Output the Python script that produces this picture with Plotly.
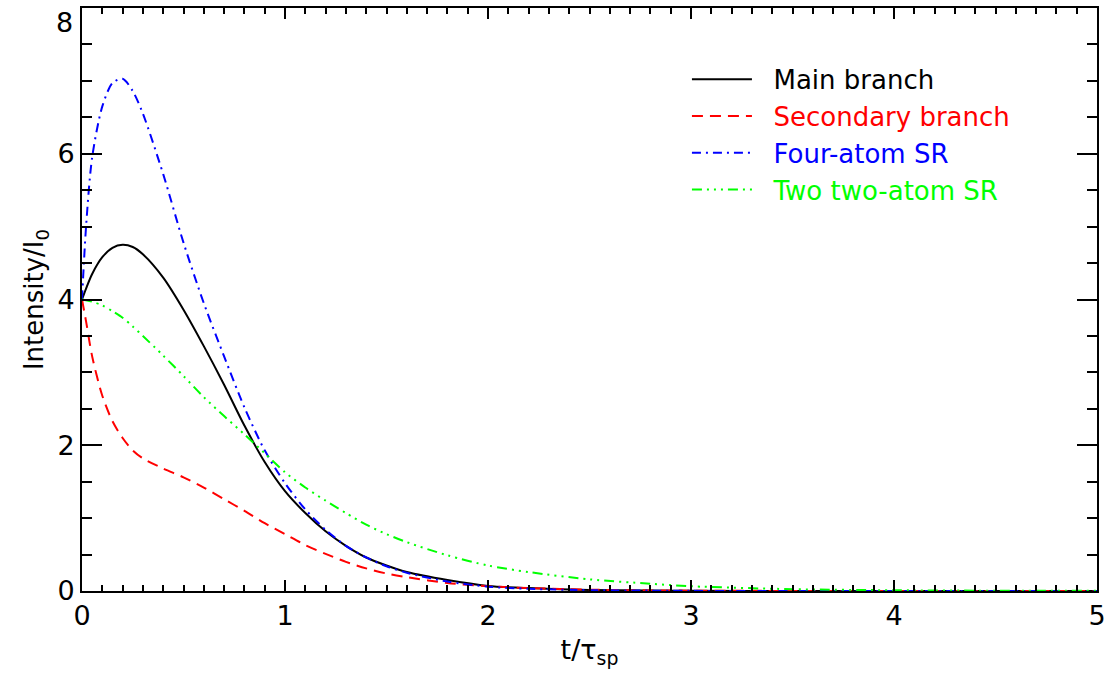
import plotly.graph_objects as go

# time grid (t / tau_sp)
t = [0, 0.02, 0.05, 0.1, 0.15, 0.2, 0.25, 0.3, 0.4, 0.5, 0.6, 0.7, 0.8, 0.9,
     1.0, 1.1, 1.2, 1.3, 1.4, 1.5, 1.6, 1.8, 2.0, 2.2, 2.5, 2.8, 3.0, 3.5,
     4.0, 4.5, 5.0]

main_branch = [4.0, 4.15, 4.35, 4.58, 4.71, 4.75, 4.72, 4.62, 4.30, 3.86,
               3.36, 2.83, 2.27, 1.77, 1.37, 1.07, 0.82, 0.62, 0.46, 0.35,
               0.26, 0.15, 0.07, 0.04, 0.015, 0.006, 0.003, 0.001, 0.0,
               0.0, 0.0]

secondary_branch = [4.0, 3.70, 3.22, 2.68, 2.33, 2.10, 1.93, 1.82, 1.68,
                    1.56, 1.42, 1.26, 1.10, 0.93, 0.78, 0.63, 0.51, 0.40,
                    0.31, 0.24, 0.19, 0.11, 0.065, 0.04, 0.018, 0.008,
                    0.005, 0.001, 0.0, 0.0, 0.0]

four_atom = [4.0, 5.0, 5.95, 6.65, 6.97, 7.03, 6.86, 6.55, 5.72, 4.78,
             3.95, 3.22, 2.52, 1.93, 1.48, 1.12, 0.84, 0.62, 0.46, 0.34,
             0.25, 0.13, 0.06, 0.03, 0.012, 0.005, 0.002, 0.0, 0.0, 0.0,
             0.0]

two_two_atom = [4.0, 3.99, 3.97, 3.92, 3.84, 3.75, 3.63, 3.50, 3.23, 2.95,
                2.66, 2.40, 2.15, 1.89, 1.63, 1.42, 1.24, 1.07, 0.91, 0.78,
                0.67, 0.49, 0.35, 0.26, 0.16, 0.10, 0.065, 0.025, 0.01,
                0.004, 0.002]

y_ticks = [0, 2, 4, 6, 8]
y_ticklabels = ["0", "2", "4", "6", ""]   # top label "8" drawn below its tick
y_top_label = "8"
x_ticks = [0, 1, 2, 3, 4, 5]

series = [
    ("Main branch", main_branch, "#000000", "solid"),
    ("Secondary branch", secondary_branch, "#ff0000", "11px,7px"),
    ("Four-atom SR", four_atom, "#0000ff", "9px,5px,2px,5px"),
    ("Two two-atom SR", two_two_atom, "#00ff00",
     "10px,5px,2px,5px,2px,5px,2px,5px"),
]

FONT = "DejaVu Sans"
GAP = "&nbsp;&nbsp;"

fig = go.Figure()
for i, (name, vals, col, dash) in enumerate(series):
    fig.add_trace(go.Scatter(
        x=t, y=vals, mode="lines", line_shape="spline",
        name=f"{GAP}<span style='color:{col}'>{name}</span>",
        legendgroup=f"g{i}",
        line=dict(color=col, width=2, dash=dash, smoothing=0.8),
    ))

fig.add_annotation(
    text=y_top_label, xref="paper", yref="y", x=0, y=y_ticks[-1],
    xanchor="right", yanchor="top", xshift=-7, yshift=3, showarrow=False,
    font=dict(family=FONT, size=27, color="black"),
)

fig.update_layout(
    width=1110, height=677,
    margin=dict(l=82, r=13, t=8, b=86),
    paper_bgcolor="white", plot_bgcolor="white",
    font=dict(family=FONT, color="black"),
    showlegend=True,
    legend=dict(
        x=0.596, y=0.918, xanchor="left", yanchor="top",
        bgcolor="rgba(0,0,0,0)", borderwidth=0,
        font=dict(family=FONT, size=26),
        tracegroupgap=0, itemwidth=60,
    ),
    xaxis=dict(
        range=[0, 5], showgrid=False, zeroline=False, automargin=False,
        showline=True, linecolor="black", linewidth=2, mirror="ticks",
        ticks="inside", ticklen=11, tickwidth=1.5, tickcolor="black",
        tickvals=x_ticks,
        minor=dict(ticks="inside", ticklen=6, tickwidth=1.5,
                   tickcolor="black", dtick=0.1, showgrid=False),
        tickfont=dict(family=FONT, size=27),
        title=dict(text="t/τ<sub>sp</sub>", font=dict(family=FONT, size=27),
                   standoff=10),
    ),
    yaxis=dict(
        range=[0, 8], showgrid=False, zeroline=False, automargin=False,
        showline=True, linecolor="black", linewidth=2, mirror="ticks",
        ticks="inside", ticklen=20, tickwidth=1.5, tickcolor="black",
        tickvals=y_ticks, ticktext=y_ticklabels,
        minor=dict(ticks="inside", ticklen=10, tickwidth=1.5,
                   tickcolor="black", dtick=0.5, showgrid=False),
        tickfont=dict(family=FONT, size=27),
        title=dict(text="Intensity/I<sub>0</sub>",
                   font=dict(family=FONT, size=26), standoff=6),
    ),
)

fig.write_html("out.html", config={"displayModeBar": False},
               post_script="document.body.style.margin='0';")
